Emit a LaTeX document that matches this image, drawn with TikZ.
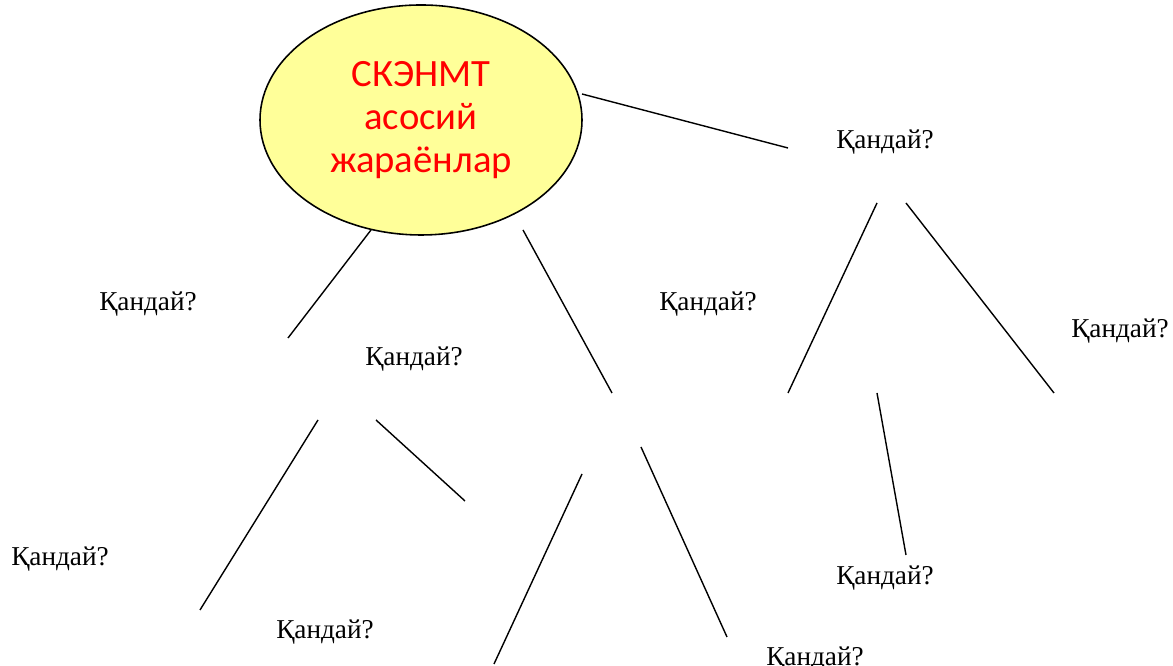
\documentclass[tikz,border=0pt]{standalone}
\usepackage{fontspec}
\setmainfont{Liberation Serif}
\newfontfamily\headfont{Carlito}
\usepackage{tikz}
\usetikzlibrary{shapes.geometric}

\definecolor{paleyellow}{RGB}{255,255,153}

\tikzset{
    twig/.style={black, line width=0.8pt},
    askbox/.style={font=\fontsize{15.5}{18}\selectfont, inner sep=1pt}
}

\begin{document}
\begin{tikzpicture}
\useasboundingbox (0,0) rectangle (23.46,13.32);

\node[ellipse, draw=black, line width=0.9pt, fill=paleyellow, minimum width=6.44cm, minimum height=4.6cm] (core) at (8.42,10.92) {};
\node[text=red, align=center, font=\headfont\fontsize{22}{24.5}\selectfont] (coretext) at (8.42,10.92) {СКЭНМТ\\асосий\\жараёнлар};

% branch ends
\coordinate (r1a) at (11.64,11.44);  \coordinate (r1b) at (15.76,10.36);
\coordinate (l1a) at (7.42,8.72);    \coordinate (l1b) at (5.76,6.56);
\coordinate (m1a) at (10.46,8.72);   \coordinate (m1b) at (12.24,5.46);
\coordinate (r2a) at (17.54,9.26);   \coordinate (r2b) at (15.76,5.46);
\coordinate (r3a) at (18.12,9.26);   \coordinate (r3b) at (21.08,5.46);
\coordinate (l2a) at (6.36,4.92);    \coordinate (l2b) at (4.00,1.12);
\coordinate (l3a) at (7.52,4.92);    \coordinate (l3b) at (9.30,3.30);
\coordinate (m2a) at (11.64,3.84);   \coordinate (m2b) at (9.88,0.04);
\coordinate (m3a) at (12.82,4.38);   \coordinate (m3b) at (14.54,0.58);
\coordinate (r4a) at (17.54,5.46);   \coordinate (r4b) at (18.12,2.22);

\draw[twig] (r1a) -- (r1b);
\draw[twig] (l1a) -- (l1b);
\draw[twig] (m1a) -- (m1b);
\draw[twig] (r2a) -- (r2b);
\draw[twig] (r3a) -- (r3b);
\draw[twig] (l2a) -- (l2b);
\draw[twig] (l3a) -- (l3b);
\draw[twig] (m2a) -- (m2b);
\draw[twig] (m3a) -- (m3b);
\draw[twig] (r4a) -- (r4b);

% questions
\node[askbox] (q1) at (17.70,10.48) {Қандай?};
\node[askbox] (q2) at (2.96,7.24) {Қандай?};
\node[askbox] (q3) at (8.28,6.14) {Қандай?};
\node[askbox] (q4) at (14.16,7.24) {Қандай?};
\node[askbox] (q5) at (22.40,6.70) {Қандай?};
\node[askbox] (q6) at (1.20,2.14) {Қандай?};
\node[askbox] (q7) at (6.50,0.68) {Қандай?};
\node[askbox] (q8) at (17.70,1.76) {Қандай?};
\node[askbox] (q9) at (16.30,0.14) {Қандай?};

\end{tikzpicture}
\end{document}
